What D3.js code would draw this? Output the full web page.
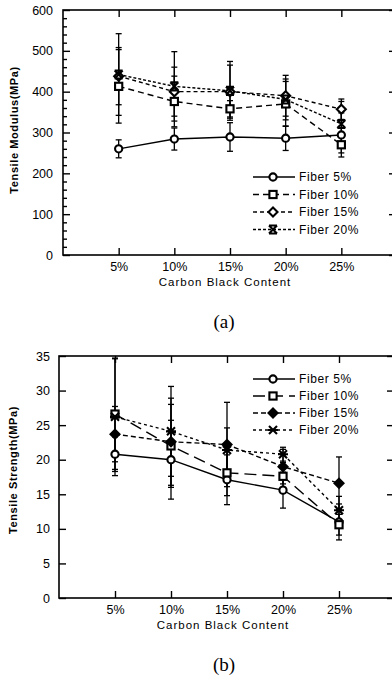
<!DOCTYPE html>
<html>
<head>
<meta charset="utf-8">
<script src="https://cdn.jsdelivr.net/npm/d3@7"></script>
<style>
  body { margin: 0; background: #fff; }
  svg { display: block; font-family: "Liberation Sans", Arial, sans-serif; }
</style>
</head>
<body>
<svg id="chart" width="392" height="683"></svg>
<script>
// carbon black content on the x axis
const categories = ["5%", "10%", "15%", "20%", "25%"];
const seriesNames = ["Fiber 5%", "Fiber 10%", "Fiber 15%", "Fiber 20%"];

// (a) tensile modulus, MPa
const modulusFiber5 = [260, 284, 289, 286, 294];
const modulusFiber10 = [413, 376, 358, 370, 270];
const modulusFiber15 = [438, 400, 400, 390, 357];
const modulusFiber20 = [442, 413, 402, 381, 321];
const modulusErr5 = [22, 27, 35, 30, 54];
const modulusErr10 = [90, 62, 20, 55, 20];
const modulusErr15 = [70, 60, 65, 50, 25];
const modulusErr20 = [100, 85, 72, 50, 55];
const modulusTicks = [0, 100, 200, 300, 400, 500, 600];

// (b) tensile strength, MPa
const strengthFiber5 = [20.8, 20.0, 17.1, 15.6, 11.0];
const strengthFiber10 = [26.6, 22.0, 18.1, 17.6, 10.6];
const strengthFiber15 = [23.7, 22.6, 22.2, 19.0, 16.6];
const strengthFiber20 = [26.2, 24.1, 21.4, 20.8, 12.7];
const strengthErr5 = [2.5, 5.7, 3.6, 2.6, 2.6];
const strengthErr10 = [8, 6, 3.3, 2, 1.5];
const strengthErr15 = [4, 6.3, 6.1, 2.5, 3.8];
const strengthErr20 = [8.5, 6.5, 3.2, 1, 2];
const strengthTicks = [0, 5, 10, 15, 20, 25, 30, 35];

const ink = "#000";
const svg = d3.select("#chart");

function drawMarker(g, type, cx, cy) {
    const m = g.append("g").attr("transform", `translate(${cx},${cy})`)
        .attr("stroke", ink).attr("stroke-width", 2.1).attr("fill", "#fff");
    if (type === "circle") {
        m.append("circle").attr("r", 3.6);
    } else if (type === "square") {
        m.append("rect").attr("x", -3.6).attr("y", -3.6).attr("width", 7.2).attr("height", 7.2);
    } else if (type === "diamond" || type === "diamondFilled") {
        m.append("path").attr("d", "M0,-4.5L4.5,0L0,4.5L-4.5,0Z")
            .attr("fill", type === "diamondFilled" ? ink : "#fff");
    } else if (type === "x") {
        m.append("path").attr("d", "M-4,-4L4,4M4,-4L-4,4M-4,-4H4M-4,4H4").attr("fill", "none");
    } else if (type === "asterisk") {
        m.append("path").attr("d", "M-4,-4L4,4M4,-4L-4,4M-5,0H5").attr("fill", "none");
    }
}

function drawPanel(p) {
    const x = d3.scaleLinear().domain([0, categories.length + 1]).range([p.left, p.right]);
    const y = d3.scaleLinear().domain([0, d3.max(p.ticks)]).range([p.bottom, p.top]);
    const g = svg.append("g");
    const idx = categories.map((c, i) => i + 1);

    // frame
    g.append("rect")
        .attr("x", p.left).attr("y", p.top)
        .attr("width", p.right - p.left).attr("height", p.bottom - p.top)
        .attr("fill", "none").attr("stroke", ink).attr("stroke-width", 1.6);

    const style = sel => {
        sel.select(".domain").remove();
        sel.selectAll("line").attr("stroke", ink).attr("stroke-width", 1.4);
        sel.selectAll("text").attr("fill", ink).attr("font-size", 12.5).attr("font-family", null);
    };

    // y axes, ticks point inward
    g.append("g").attr("transform", `translate(${p.left},0)`)
        .call(d3.axisLeft(y).tickValues(p.ticks).tickSizeInner(-7).tickSizeOuter(0).tickPadding(p.yPad))
        .call(style);
    if (p.minor.length) {
        g.append("g").attr("transform", `translate(${p.left},0)`)
            .call(d3.axisLeft(y).tickValues(p.minor).tickSizeInner(-4).tickSizeOuter(0).tickFormat(""))
            .call(style);
    }
    g.append("g").attr("transform", `translate(${p.right},0)`)
        .call(d3.axisRight(y).tickValues(p.ticks).tickSizeInner(-8).tickSizeOuter(0).tickFormat(""))
        .call(style);

    // x axes
    g.append("g").attr("transform", `translate(0,${p.bottom})`)
        .call(d3.axisBottom(x).tickValues(idx).tickFormat(i => categories[i - 1])
            .tickSizeInner(-7).tickSizeOuter(0).tickPadding(7))
        .call(style);
    g.append("g").attr("transform", `translate(0,${p.top})`)
        .call(d3.axisTop(x).tickValues(idx).tickSizeInner(-7).tickSizeOuter(0).tickFormat(""))
        .call(style);

    // axis titles
    g.append("text")
        .attr("x", (p.left + 393) / 2 - 3).attr("y", p.bottom + 31)
        .attr("text-anchor", "middle").attr("font-size", 11.5).attr("letter-spacing", 1)
        .attr("fill", ink).text("Carbon Black Content");
    g.append("text")
        .attr("transform", `translate(${p.titleX},${p.titleY}) rotate(-90)`)
        .attr("text-anchor", "middle").attr("font-size", 11).attr("font-weight", "bold")
        .attr("letter-spacing", 0.6).attr("fill", ink).text(p.yTitle);

    const line = d3.line().x((d, i) => x(i + 1)).y(d => y(d));

    p.series.forEach((s, k) => {
        // error bars
        s.values.forEach((v, i) => {
            const cx = x(i + 1);
            const y0 = y(v - s.err[i]), y1 = y(v + s.err[i]);
            g.append("line").attr("x1", cx).attr("x2", cx).attr("y1", y0).attr("y2", y1)
                .attr("stroke", ink).attr("stroke-width", 1.3);
            [y0, y1].forEach(yy => g.append("line")
                .attr("x1", cx - 3).attr("x2", cx + 3).attr("y1", yy).attr("y2", yy)
                .attr("stroke", ink).attr("stroke-width", 1.3));
        });
        g.append("path").datum(s.values)
            .attr("d", line).attr("fill", "none")
            .attr("stroke", ink).attr("stroke-width", 1.4)
            .attr("stroke-dasharray", s.dash);
    });
    p.series.forEach(s => {
        s.values.forEach((v, i) => drawMarker(g, s.marker, x(i + 1), y(v)));
    });

    // legend
    p.series.forEach((s, k) => {
        const ly = p.legendY + k * p.legendStep;
        g.append("line").attr("x1", 253).attr("x2", 295).attr("y1", ly).attr("y2", ly)
            .attr("stroke", ink).attr("stroke-width", 1.4).attr("stroke-dasharray", s.dash);
        drawMarker(g, s.marker, 273, ly);
        g.append("text").attr("x", 299).attr("y", ly).attr("dy", "0.35em")
            .attr("font-size", 12).attr("letter-spacing", 0.6).attr("fill", ink)
            .text(seriesNames[k]);
    });

    // caption
    g.append("text")
        .attr("x", 224).attr("y", p.bottom + 73)
        .attr("text-anchor", "middle").attr("font-family", "'Liberation Serif', 'Times New Roman', serif")
        .attr("font-size", 19).attr("fill", ink).text(p.caption);
}

drawPanel({
    left: 63, right: 397, top: 10, bottom: 255,
    ticks: modulusTicks, minor: d3.range(20, 600, 20).filter(v => v % 100 !== 0), yPad: 10,
    yTitle: "Tensile Modulus(MPa)", titleX: 18, titleY: 130,
    legendY: 177, legendStep: 17.5, caption: "(a)",
    series: [
        { values: modulusFiber5, err: modulusErr5, marker: "circle", dash: null },
        { values: modulusFiber10, err: modulusErr10, marker: "square", dash: "6,4" },
        { values: modulusFiber15, err: modulusErr15, marker: "diamond", dash: "4,3" },
        { values: modulusFiber20, err: modulusErr20, marker: "x", dash: "3,2" }
    ]
});

drawPanel({
    left: 59, right: 395, top: 356, bottom: 598,
    ticks: strengthTicks, minor: [], yPad: 9,
    yTitle: "Tensile Strength(MPa)", titleX: 17, titleY: 470,
    legendY: 379, legendStep: 17, caption: "(b)",
    series: [
        { values: strengthFiber5, err: strengthErr5, marker: "circle", dash: null },
        { values: strengthFiber10, err: strengthErr10, marker: "square", dash: "12,6" },
        { values: strengthFiber15, err: strengthErr15, marker: "diamondFilled", dash: "5,3" },
        { values: strengthFiber20, err: strengthErr20, marker: "asterisk", dash: "3,3" }
    ]
});
</script>
</body>
</html>
